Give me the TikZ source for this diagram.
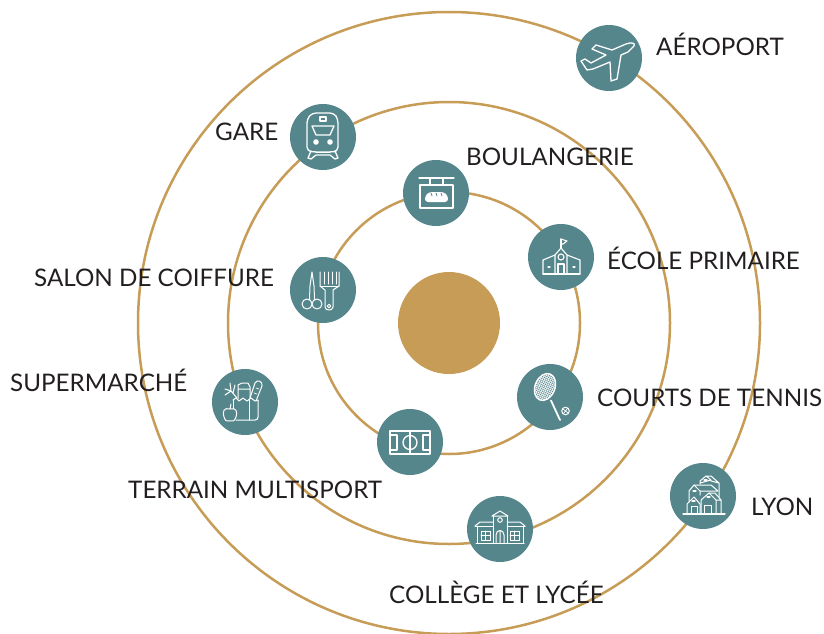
\documentclass[tikz,border=0pt]{standalone}
\usepackage{fontspec}
\setmainfont{Lato}
\definecolor{ringgold}{HTML}{C69C56}
\definecolor{iconteal}{HTML}{55868C}
\definecolor{labelink}{HTML}{231F20}
\tikzset{
  ring/.style={draw=ringgold,line width=2.5pt},
  icondisc/.style={circle,fill=iconteal,minimum size=66pt,inner sep=0pt},
  placename/.style={anchor=base west,inner sep=0pt,text=labelink,font=\fontsize{24.2}{27}\selectfont},
  icon/.style={draw=white,line width=1.3pt,line join=round,line cap=round},
  thinicon/.style={icon,line width=0.7pt}
}
\begin{document}
\begin{tikzpicture}[x=1pt,y=-1pt]
  \useasboundingbox (0,0) rectangle (824,634);
  \coordinate (centre) at (449,323);
  \draw [ring] (centre) circle (131);
  \draw [ring] (centre) circle (221);
  \draw [ring] (centre) circle (311);
  \fill [ringgold] (centre) circle (51);

  \node [icondisc] (avion) at (609,58) {};
  \node [icondisc] (gare) at (323,137) {};
  \node [icondisc] (boulangerie) at (436,193) {};
  \node [icondisc] (ecole) at (561,257) {};
  \node [icondisc] (coiffure) at (323,290) {};
  \node [icondisc] (tennis) at (550,397) {};
  \node [icondisc] (terrain) at (410,442) {};
  \node [icondisc] (supermarche) at (245,402) {};
  \node [icondisc] (college) at (500,529) {};
  \node [icondisc] (lyon) at (703,496) {};

  % plane
  \begin{scope}[shift={(avion.center)},icon]
    \draw (25,-12) -- (19,-6) -- (12,-3) -- (8,21) -- (2,23) -- (1,4) -- (-16,11) -- (-22,12)
      -- (-28,3) -- (-24,1) -- (-18,5) -- (-3,-3) -- (-17,-9) -- (-13,-13) -- (3,-8) -- (17,-14)
      .. controls (22,-16) and (27,-15) .. (25,-12);
  \end{scope}
  % train
  \begin{scope}[shift={(gare.center)},icon]
    \draw [rounded corners=4pt] (-16,14) -- (-16,-18) -- (-11,-24) -- (11,-24) -- (15,-18) -- (15,14) -- (9,15) -- (-9,15) -- cycle;
    \draw (-11,-11) -- (11,-11) -- (7,-2) -- (-7,-2) -- cycle;
    \draw (-3,-20) rectangle (3,-16);
    \fill [white] (-7,5) circle (2.8) (7,5) circle (2.8);
    \draw (-12,14) -- (-15,21) -- (-12,22) -- (-7,18) -- (7,18) -- (12,22) -- (15,21) -- (12,14);
    \draw [line width=0.7pt] (-7,15) -- (7,15);
  \end{scope}
  % hanging sign
  \begin{scope}[shift={(boulangerie.center)},icon]
    \draw (-17,-15) -- (18,-15) (-6,-15) -- (-6,-8) (7,-15) -- (7,-8);
    \draw (-16,-8) rectangle (17,15);
    \fill [white,rounded corners=3pt] (-11,9) -- (-11,3) -- (-7,-1) -- (8,-1) -- (12,3) -- (12,9) -- cycle;
    \draw [iconteal,line width=0.8pt] (-5,0) -- (-4,3) (0,0) -- (1,3) (5,0) -- (6,3);
  \end{scope}
  % primary school
  \begin{scope}[shift={(ecole.center)},shift={(0,2)},icon,line width=1.1pt]
    \draw (-18,15) -- (-18,1) -- (-6,-4) (6,-4) -- (19,1) -- (19,15);
    \draw (-6,15) -- (-6,-4) -- (0,-11) -- (6,-4) -- (6,15);
    \draw (-18,15) -- (19,15);
    \draw (0,-2) circle (3);
    \draw (-3,15) -- (-3,5) -- (3,5) -- (3,15);
    \draw (0,-11) -- (0,-20);
    \draw (0,-20) -- (6,-18) -- (2,-15) -- (0,-15);
    \draw (-13,8) -- (-11,8) (12,8) -- (14,8);
  \end{scope}
  % scissors and comb
  \begin{scope}[shift={(coiffure.center)},icon,line width=1pt]
    \draw (-16,14) circle (5) (-6,14) circle (5);
    \draw (-13.5,9.5) -- (-13,-4) -- (-11,-18) -- (-9,-4) -- (-8.5,9.5);
    \draw (-3,-18) -- (-3,-4) -- (2,0) -- (2,17) .. controls (2,21) and (10,21) .. (10,17) -- (10,0) -- (16,-4) -- (16,-18);
    \draw (1,-18) -- (1,-6) (5,-18) -- (5,-6) (9,-18) -- (9,-6) (13,-18) -- (13,-6) (-3,-4) -- (16,-4);
    \draw (6,16) circle (1.8);
  \end{scope}
  % racket
  \begin{scope}[shift={(tennis.center)},icon]
    \begin{scope}[rotate around={-22:(-5,-10)}]
      \clip (-5,-10) ellipse (10 and 14);
      \foreach \k in {-24,-21.5,...,24} {
        \draw [thinicon,line width=0.5pt] (\k-16,-26) -- (\k+16,6);
        \draw [thinicon,line width=0.5pt] (\k+16,-26) -- (\k-16,6);
      }
    \end{scope}
    \draw [rotate around={-22:(-5,-10)}] (-5,-10) ellipse (10 and 14);
    \draw [line width=1.8pt] (1,3.5) -- (10,23);
    \draw [line width=1pt] (15.5,14) circle (3.8);
    \draw [thinicon] (13,12) -- (18,16) (13.5,16.5) -- (17.5,11.5);
  \end{scope}
  % sports pitch
  \begin{scope}[shift={(terrain.center)},icon]
    \draw (-20,-11) rectangle (20,12);
    \draw (0,-11) -- (0,12);
    \draw (0,0.5) circle (7);
    \draw (-20,-7) rectangle (-13,8) (20,-7) rectangle (13,8);
  \end{scope}
  % grocery bag
  \begin{scope}[shift={(supermarche.center)},icon,line width=1pt]
    \draw (-9,18) -- (10,18) .. controls (12,18) and (13,17) .. (13,15) -- (13,-2);
    \draw (-12,-2) -- (-12,6);
    \draw (-12,-2) -- (-9,-4) -- (-6,-1) -- (-2,-4) -- (2,-1) -- (6,-4) -- (10,-1) -- (13,-2);
    \draw (4,-2) -- (4,18);
    \draw (-15,7) .. controls (-21,5) and (-23,10) .. (-21,15) .. controls (-20,19) and (-17,20) .. (-15,19)
      .. controls (-13,20) and (-10,19) .. (-9,15) .. controls (-7,10) and (-9,5) .. (-15,7) -- (-14,2);
    \draw (-7,-3) -- (-7,-17) -- (-3,-19) -- (3,-19) -- (5,-15) -- (5,-4) (-7,-13) -- (5,-13);
    \draw (5,-4) -- (10,-19) .. controls (12,-23) and (18,-21) .. (17,-16) -- (11,-1);
    \draw [line width=0.7pt] (11,-14) -- (14,-13) (9,-9) -- (12,-8);
    \draw (-8,-4) -- (-14,-11) -- (-15,-19) (-14,-11) -- (-20,-13) (-14,-11) -- (-20,-7) (-12,-9) -- (-10,-17);
  \end{scope}
  % school building
  \begin{scope}[shift={(college.center)},icon,line width=1pt]
    \draw (-24,14) -- (24,14);
    \draw (-23,14) -- (-23,-3) (23,14) -- (23,-3);
    \draw (-25,-3) -- (-7,-3) (7,-3) -- (25,-3);
    \draw (-25,-3) -- (-20,-7) -- (-7,-7) (25,-3) -- (20,-7) -- (7,-7);
    \draw (-7,14) -- (-7,-13) (7,14) -- (7,-13);
    \draw (-8,-13) -- (0,-18) -- (8,-13) -- cycle;
    \draw (0,-9) circle (2.3);
    \draw (-4,14) -- (-4,6) .. controls (-4,0) and (4,0) .. (4,6) -- (4,14) (0,2) -- (0,14);
    \draw (-19,2) rectangle (-10,11) (10,2) rectangle (19,11);
    \draw (-14.5,2) -- (-14.5,11) (-19,6.5) -- (-10,6.5) (14.5,2) -- (14.5,11) (10,6.5) -- (19,6.5);
  \end{scope}
  % houses
  \begin{scope}[shift={(lyon.center)},icon,line width=1pt]
    \draw [line width=1.3pt] (-20,18) -- (22,18);
    \draw (-16,18) -- (-16,8) -- (-9,1) -- (-3,8) -- (-3,18);
    \draw (-12,18) -- (-12,10) -- (-6,10) -- (-6,18);
    \draw (-2,18) -- (-2,4) -- (6,-3) -- (13,4) -- (13,18);
    \draw (1,18) -- (1,9) -- (8,9) -- (8,18);
    \draw (13,4) -- (18,4) -- (18,18) -- (13,18) (18,4) -- (12,-3) -- (6,-3);
    \draw (-14,6) -- (-14,-5) -- (-9,-11) -- (-3,-5) -- (-3,-1);
    \draw (-9,-11) -- (8,-11) -- (15,-5) -- (-3,-5);
    \draw (-3,-12) -- (-3,-15) -- (3,-20) -- (8,-16) -- (-3,-13) (3,-20) -- (8,-20) -- (16,-13) -- (16,1) (8,-15) -- (16,-13);
    \draw [line width=1.2pt] (-10,-5) -- (-7,-5) (4,1) -- (7,1) (1,-16) -- (4,-16) (-11,5) -- (-8,5);
  \end{scope}

  \node [placename] (lbl-avion) at (656,56) {AÉROPORT};
  \node [placename] (lbl-gare) at (215,140) {GARE};
  \node [placename] (lbl-boulangerie) at (466,165) {BOULANGERIE};
  \node [placename] (lbl-ecole) at (607,269) {ÉCOLE PRIMAIRE};
  \node [placename] (lbl-coiffure) at (34,286) {SALON DE COIFFURE};
  \node [placename] (lbl-tennis) at (597,406) {COURTS DE TENNIS};
  \node [placename] (lbl-supermarche) at (10,391) {SUPERMARCHÉ};
  \node [placename] (lbl-terrain) at (128,498) {TERRAIN MULTISPORT};
  \node [placename] (lbl-lyon) at (751,515) {LYON};
  \node [placename] (lbl-college) at (389,603) {COLLÈGE ET LYCÉE};
\end{tikzpicture}
\end{document}
